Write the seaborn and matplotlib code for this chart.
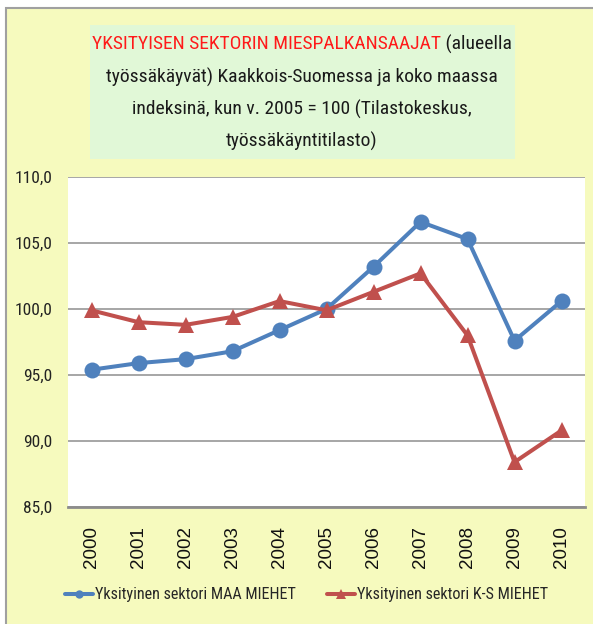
import matplotlib
matplotlib.use("Agg")
import matplotlib.pyplot as plt
from matplotlib.lines import Line2D
from matplotlib.patches import Rectangle
import seaborn as sns
import pandas as pd

years = ["2000", "2001", "2002", "2003", "2004", "2005",
         "2006", "2007", "2008", "2009", "2010"]
maa_miehet = [95.4, 95.9, 96.2, 96.8, 98.4, 100.0, 103.2, 106.6, 105.3, 97.6, 100.6]
ks_miehet = [99.9, 99.0, 98.8, 99.4, 100.6, 99.9, 101.3, 102.7, 98.0, 88.4, 90.8]
series_names = ["Yksityinen sektori MAA MIEHET", "Yksityinen sektori K-S MIEHET"]
y_ticks = [85.0, 90.0, 95.0, 100.0, 105.0, 110.0]

BLUE = "#4f81bd"
RED = "#c0504d"
YELLOW = "#f6fabe"
GREEN = "#e1f8d7"

sns.set_theme(style="white")
plt.rcParams["font.family"] = ["Roboto Condensed", "DejaVu Sans"]

W, H, DPI = 593, 624, 100
fig = plt.figure(figsize=(W / DPI, H / DPI), dpi=DPI, facecolor="white")


def fx(px):
    return px / W


def fy(py):
    return 1 - py / H


# chart area background with thin border
fig.patches.append(Rectangle((fx(6), fy(700)), fx(600), 692 / H,
                             transform=fig.transFigure, facecolor=YELLOW,
                             edgecolor="#a0a0a0", linewidth=1.5, zorder=-2))
# title box
fig.patches.append(Rectangle((fx(90), fy(159)), fx(515 - 90), (159 - 25) / H,
                             transform=fig.transFigure, facecolor=GREEN,
                             edgecolor="none", zorder=-1))

ax = fig.add_axes([fx(68), fy(507), fx(585 - 68), (507 - 177) / H])
ax.set_zorder(2)
ax.set_facecolor("white")

df = pd.DataFrame({
    "pos": list(range(len(years))) * 2,
    "value": maa_miehet + ks_miehet,
    "series": [series_names[0]] * len(years) + [series_names[1]] * len(years),
})

sns.lineplot(data=df, x="pos", y="value", hue="series", style="series",
             palette=[BLUE, RED], markers=["o", "^"], dashes=False,
             linewidth=2.9, markersize=11.5, markeredgewidth=0,
             legend=False, ax=ax, clip_on=False)

ax.set_xlim(-0.5, len(years) - 0.5)
ax.set_ylim(85, 110)
ax.set_yticks(y_ticks)
ax.set_yticklabels([f"{v:.1f}".replace(".", ",") for v in y_ticks],
                   fontsize=12.5, color="#222222")
ax.set_xticks(range(len(years)))
ax.set_xticklabels(years, rotation=90, fontsize=13.5, color="#111111",
                   family=["Liberation Sans", "DejaVu Sans"])
ax.tick_params(axis="both", length=0)
ax.tick_params(axis="x", pad=14)
ax.tick_params(axis="y", pad=11)
ax.set_xlabel("")
ax.set_ylabel("")
ax.grid(axis="y", color="#a6a6a6", linewidth=1.4)
ax.set_axisbelow(True)
for side in ["left", "right", "top"]:
    ax.spines[side].set_visible(False)
ax.spines["bottom"].set_color("#8c8c8c")
ax.spines["bottom"].set_linewidth(2)

# title, first part highlighted in red
title_size = 14
red_part = "YKSITYISEN SEKTORIN MIESPALKANSAAJAT"
black_part = " (alueella"
renderer = fig.canvas.get_renderer()
t_red = fig.text(0, 0, red_part, fontsize=title_size, color="#ff1a1a")
t_blk = fig.text(0, 0, black_part, fontsize=title_size, color="#1a1a1a")
w_red = t_red.get_window_extent(renderer).width
w_blk = t_blk.get_window_extent(renderer).width
cx = 302
start = cx - (w_red + w_blk) / 2
t_red.set_position((fx(start), fy(44)))
t_red.set_va("center")
t_blk.set_position((fx(start + w_red), fy(44)))
t_blk.set_va("center")

other_lines = ["työssäkäyvät) Kaakkois-Suomessa ja koko maassa",
               "indeksinä, kun v. 2005 = 100 (Tilastokeskus,",
               "työssäkäyntitilasto)"]
for i, line in enumerate(other_lines):
    fig.text(fx(cx), fy(77 + 32 * i), line, fontsize=title_size,
             color="#1a1a1a", ha="center", va="center")

leg_size = 11.6
em = leg_size * DPI / 72
handles = [Line2D([], [], color=BLUE, linewidth=2.9, marker="o", markersize=6,
                  markeredgewidth=0),
           Line2D([], [], color=RED, linewidth=2.9, marker="^", markersize=7,
                  markeredgewidth=0)]
fig.legend(handles, series_names, loc="center left", ncol=2,
           bbox_to_anchor=(fx(65), fy(595)), frameon=False,
           fontsize=leg_size, handlelength=28 / em, handletextpad=2 / em,
           columnspacing=31 / em, borderpad=0, borderaxespad=0)

fig.savefig("out.png", dpi=DPI, facecolor="white")
